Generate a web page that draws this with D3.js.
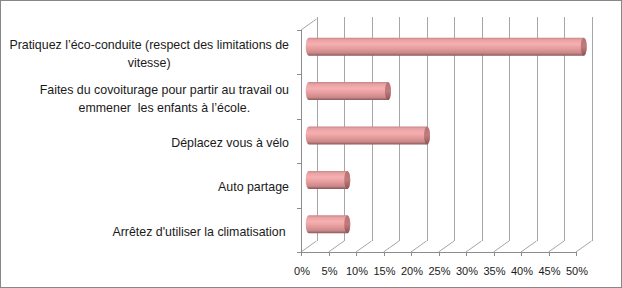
<!DOCTYPE html>
<html>
<head>
<meta charset="utf-8">
<script src="https://cdn.jsdelivr.net/npm/d3@7"></script>
<style>
  body { margin: 0; background: #fff; }
  svg { display: block; font-family: "Liberation Sans", Arial, sans-serif; }
  .cat text { white-space: pre; }
</style>
</head>
<body>
<svg id="chart" width="622" height="288"></svg>
<script>
// data
const categories = [
  ["Pratiquez l\u2019éco-conduite (respect des limitations de", "vitesse)"],
  ["Faites du covoiturage pour partir au travail ou", "emmener  les enfants à l\u2019école."],
  ["Déplacez vous à vélo"],
  ["Auto partage"],
  ["Arrêtez d'utiliser la climatisation "]
];
const values = [0.50, 0.144, 0.215, 0.07, 0.07];
const tickValues = [0, 0.05, 0.1, 0.15, 0.2, 0.25, 0.3, 0.35, 0.4, 0.45, 0.5];

const width = 622, height = 288;
const plot = { left: 301, right: 576, top: 30, bottom: 252 };
const depth = { dx: 15.5, dy: -11 };   // 3d offset of back wall

const svg = d3.select("#chart");

// outer border
svg.append("rect")
  .attr("x", 0.5).attr("y", 0.5)
  .attr("width", width - 1).attr("height", height - 1)
  .attr("fill", "#fff").attr("stroke", "#878787");

const x = d3.scaleLinear().domain([0, 0.5]).range([plot.left, plot.right]);
const y = d3.scaleBand().domain(d3.range(categories.length)).range([plot.top, plot.bottom]);

// gradients for the cylinders
const defs = svg.append("defs");
const body = defs.append("linearGradient").attr("id", "body")
  .attr("x1", 0).attr("y1", 0).attr("x2", 0).attr("y2", 1);
[[0, "#c98586"], [0.12, "#e9a2a3"], [0.35, "#f6b0b1"], [0.6, "#e79c9d"], [0.85, "#c8898a"], [1, "#8f5556"]]
  .forEach(s => body.append("stop").attr("offset", s[0]).attr("stop-color", s[1]));
const cap = defs.append("linearGradient").attr("id", "cap")
  .attr("x1", 0).attr("y1", 0).attr("x2", 0).attr("y2", 1);
[[0, "#b67374"], [0.5, "#c07c7d"], [1, "#8d5253"]]
  .forEach(s => cap.append("stop").attr("offset", s[0]).attr("stop-color", s[1]));

const grid = svg.append("g").attr("stroke", "#a6a6a6").attr("fill", "none").attr("stroke-width", 1);

// back wall gridlines
grid.selectAll(".vg").data(tickValues).join("line")
  .attr("x1", d => Math.round(x(d) + depth.dx) + 0.5)
  .attr("x2", d => Math.round(x(d) + depth.dx) + 0.5)
  .attr("y1", plot.top + depth.dy - 2)
  .attr("y2", plot.bottom + depth.dy);

// floor diagonals
grid.selectAll(".fd").data(tickValues).join("line")
  .attr("x1", d => x(d)).attr("y1", plot.bottom)
  .attr("x2", d => x(d) + depth.dx).attr("y2", plot.bottom + depth.dy);

// left wall top diagonal
grid.append("line")
  .attr("x1", plot.left).attr("y1", plot.top)
  .attr("x2", plot.left + depth.dx).attr("y2", plot.top + depth.dy);

// axes
const axisG = svg.append("g").attr("stroke", "#8c8c8c").attr("stroke-width", 1);
axisG.append("line")
  .attr("x1", plot.left + 0.5).attr("x2", plot.left + 0.5)
  .attr("y1", plot.top).attr("y2", plot.bottom);
axisG.append("line")
  .attr("x1", plot.left).attr("x2", plot.right)
  .attr("y1", plot.bottom + 0.5).attr("y2", plot.bottom + 0.5);

// category ticks
const yTicks = d3.range(categories.length + 1).map(i => plot.top + i * y.step());
axisG.selectAll(".yt").data(yTicks).join("line")
  .attr("x1", plot.left - 4).attr("x2", plot.left)
  .attr("y1", d => Math.round(d) + 0.5).attr("y2", d => Math.round(d) + 0.5);

// value ticks
axisG.selectAll(".xt").data(tickValues).join("line")
  .attr("x1", d => Math.round(x(d)) + 0.5).attr("x2", d => Math.round(x(d)) + 0.5)
  .attr("y1", plot.bottom).attr("y2", plot.bottom + 4);

// tick labels
svg.append("g").selectAll("text").data(tickValues).join("text")
  .attr("x", d => x(d) + 1)
  .attr("y", 275)
  .attr("text-anchor", "middle")
  .attr("font-size", 11)
  .attr("fill", "#1a1a1a")
  .text(d => d3.format(".0%")(d));

// category labels (wrapped lines centred on each other, block right aligned)
const labelRight = 289;
const labels = svg.append("g").attr("class", "cat").attr("font-size", 12.4).attr("fill", "#1a1a1a");
categories.forEach((lines, i) => {
  const g = labels.append("g");
  const texts = lines.map(l => g.append("text").attr("text-anchor", "middle").text(l));
  const w = d3.max(texts, t => t.node().getComputedTextLength());
  const cy = y(i) + y.bandwidth() / 2 + 2;
  const lh = 18;
  texts.forEach((t, j) => {
    t.attr("x", labelRight - w / 2)
     .attr("y", cy + (j - (lines.length - 1) / 2) * lh + 4);
  });
});

// cylinders
const ry = 9, rx = 3;
const bars = svg.append("g");
values.forEach((v, i) => {
  const x0 = x(0) + depth.dx / 2;
  const x1 = x(v) + depth.dx / 2;
  const cy = y(i) + y.bandwidth() / 2 + depth.dy / 2;
  const yt = cy - ry, yb = cy + ry;
  bars.append("path")
    .attr("d", `M${x0},${yt} L${x1},${yt} A${rx},${ry} 0 0 1 ${x1},${yb} L${x0},${yb} A${rx},${ry} 0 0 1 ${x0},${yt} Z`)
    .attr("fill", "url(#body)");
  bars.append("ellipse")
    .attr("cx", x1).attr("cy", cy)
    .attr("rx", rx).attr("ry", ry)
    .attr("fill", "url(#cap)");
});
</script>
</body>
</html>
